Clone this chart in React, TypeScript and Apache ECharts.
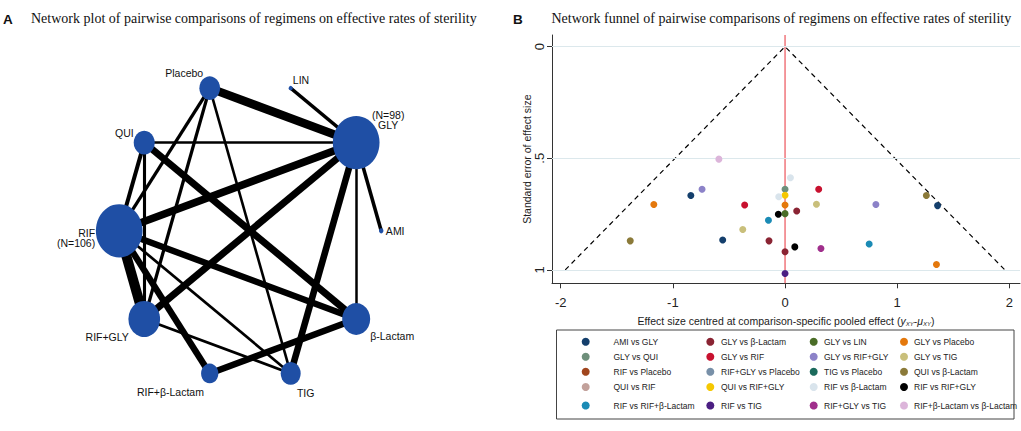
import React, { useEffect, useRef } from 'react';
import * as echarts from 'echarts';

// ---------- Panel A: network ----------
const nodeNames = ['AMI', 'GLY', 'LIN', 'Placebo', 'QUI', 'RIF', 'RIF+GLY', 'RIF+β-Lactam', 'TIG', 'β-Lactam'];
const nodeLabels = ['AMI', '(N=98)\nGLY', 'LIN', 'Placebo', 'QUI', 'RIF\n(N=106)', 'RIF+GLY', 'RIF+β-Lactam', 'TIG', 'β-Lactam'];
// node weight (drawn diameter)
const nodeWeight = [4.5, 46.7, 4, 20.7, 21, 46.7, 31.7, 17.3, 20, 28];

const edgeSource = ['GLY', 'GLY', 'GLY', 'GLY', 'GLY', 'GLY', 'GLY', 'GLY', 'Placebo', 'Placebo', 'Placebo', 'QUI', 'QUI', 'QUI', 'RIF', 'RIF', 'RIF', 'RIF', 'RIF+GLY', 'RIF+β-Lactam'];
const edgeTarget = ['Placebo', 'LIN', 'QUI', 'RIF', 'RIF+GLY', 'TIG', 'AMI', 'β-Lactam', 'RIF', 'RIF+GLY', 'TIG', 'β-Lactam', 'RIF', 'RIF+GLY', 'RIF+GLY', 'β-Lactam', 'RIF+β-Lactam', 'TIG', 'TIG', 'β-Lactam'];
const edgeWeight = [8.5, 3.3, 2.6, 7.6, 7, 6.6, 3.6, 2.5, 3.3, 3.3, 2.6, 7, 4, 3.1, 10, 6.4, 6.4, 2.7, 2.7, 6.4];

// ---------- Panel B: funnel ----------
const comparisons = [
  'AMI vs GLY', 'GLY vs β-Lactam', 'GLY vs LIN', 'GLY vs Placebo',
  'GLY vs QUI', 'GLY vs RIF', 'GLY vs RIF+GLY', 'GLY vs TIG',
  'RIF vs Placebo', 'RIF+GLY vs Placebo', 'TIG vs Placebo', 'QUI vs β-Lactam',
  'QUI vs RIF', 'QUI vs RIF+GLY', 'RIF vs β-Lactam', 'RIF vs RIF+GLY',
  'RIF vs RIF+β-Lactam', 'RIF vs TIG', 'RIF+GLY vs TIG', 'RIF+β-Lactam vs β-Lactam',
];
const comparisonColors = [
  '#143f6c', '#8a2433', '#4a6d27', '#e4780c',
  '#6e8f7b', '#c8112f', '#8c82c8', '#c9bf7b',
  '#a0451d', '#7890a8', '#1b6a5c', '#8b7a39',
  '#c2a19b', '#f5c802', '#d9e4ec', '#000000',
  '#1b8bb5', '#4b1f82', '#a02f8c', '#dcb5da',
];
// [centred effect size, standard error]
const pointsByComparison: [number, number][][] = [
  [[-0.84, 0.667], [1.36, 0.712], [-0.556, 0.866]],
  [[0.104, 0.736], [-0.143, 0.87], [0, 0.919]],
  [[0, 0.748]],
  [[-1.17, 0.707], [0, 0.709], [1.35, 0.976]],
  [[0, 0.639]],
  [[-0.36, 0.709], [0.3, 0.639]],
  [[-0.74, 0.639], [0.81, 0.707]],
  [[0.28, 0.706], [-0.377, 0.819]],
  [],
  [],
  [],
  [[1.26, 0.667], [-1.38, 0.87]],
  [],
  [[0, 0.666]],
  [[0.048, 0.587], [-0.056, 0.672]],
  [[-0.06, 0.751], [0.087, 0.897]],
  [[-0.148, 0.778], [0.75, 0.884]],
  [[0, 1.016]],
  [[0.32, 0.904]],
  [[-0.59, 0.504]],
];
const funnelX = [-1.96, 0, 1.96];
const funnelSE = [1, 0, 1];
const xTicks = [-2, -1, 0, 1, 2];
const yTicks = [0, 0.5, 1];
const xMin = -2.078;
const xMax = 2.095;
const yMin = -0.052;
const yMax = 1.06;

// label offsets for network nodes (style)
const labelOffsets: [number, number][] = [
  [14, 0.5], [32, -23], [10.3, -7.8], [-25.5, -15.5], [-19.8, -9.2],
  [-24, 7], [-37, 18], [-39.3, 18.3], [15, 19.5], [36, 17.4],
];

const legendColX = [585.7, 710.3, 813.7, 904];
const legendTextX = [613.5, 721, 824, 914];
const legendRowY = [341.7, 356.7, 371.7, 387, 405.5];

const SANS = 'Liberation Sans, Arial, sans-serif';
const SERIF = 'Liberation Serif, Times New Roman, serif';

export default function App() {
  const ref = useRef<HTMLDivElement>(null);
  useEffect(() => {
    if (!ref.current) return;
    const chart = echarts.init(ref.current, null, { renderer: 'svg' });

    const nodes = nodeNames.map((n, i) => {
      const a = (i * 36 * Math.PI) / 180;
      return {
        name: n,
        value: [Math.cos(a), Math.sin(a)],
        symbolSize: [nodeWeight[i], nodeWeight[i] * 1.14],
        label: {
          show: true,
          formatter: nodeLabels[i],
          position: 'inside',
          offset: labelOffsets[i],
          align: n === 'RIF' ? 'right' : 'center',
          verticalAlign: 'middle',
        },
      };
    });
    const links = edgeSource.map((s, k) => ({
      source: s,
      target: edgeTarget[k],
      lineStyle: { width: edgeWeight[k] },
    }));

    const scatterSeries = comparisons.map((name, i) => ({
      name,
      type: 'scatter',
      xAxisIndex: 0,
      yAxisIndex: 0,
      data: pointsByComparison[i],
      symbolSize: 7,
      itemStyle: { color: comparisonColors[i], opacity: 1 },
      z: 5,
      silent: true,
    }));

    const legends = comparisons.map((name, i) => {
      const r = Math.floor(i / 4);
      const c = i % 4;
      return {
        data: [name],
        left: legendColX[c] - 4,
        top: legendRowY[r] - 5,
        padding: 0,
        itemWidth: 8,
        itemHeight: 8,
        icon: 'circle',
        selectedMode: false,
        textStyle: {
          fontSize: 8.5,
          fontFamily: SANS,
          color: '#222',
          lineHeight: 10,
          padding: [0, 0, 0, Math.max(0, legendTextX[c] - legendColX[c] - 9)],
        },
      };
    });

    const option: any = {
      animation: false,
      backgroundColor: '#fff',
      title: [
        { text: 'A', left: 3, top: 12, padding: 0, textStyle: { fontFamily: SANS, fontWeight: 'bold', fontSize: 13.5, color: '#111' } },
        { text: 'Network plot of pairwise comparisons of regimens on effective rates of sterility', left: 31, top: 11.5, padding: 0, textStyle: { fontFamily: SERIF, fontWeight: 'normal', fontSize: 14, color: '#111' } },
        { text: 'B', left: 513, top: 12, padding: 0, textStyle: { fontFamily: SANS, fontWeight: 'bold', fontSize: 13.5, color: '#111' } },
        { text: 'Network funnel of pairwise comparisons of regimens on effective rates of sterility', left: 551.5, top: 11.5, padding: 0, textStyle: { fontFamily: SERIF, fontWeight: 'normal', fontSize: 14, color: '#111' } },
      ],
      legend: legends,
      graphic: [
        {
          type: 'rect',
          silent: true,
          shape: { x: 556.5, y: 330, width: 457.5, height: 89 },
          style: { fill: 'none', stroke: '#444', lineWidth: 1 },
        },
      ],
      grid: [
        { left: 552, top: 35, width: 468, height: 248.3, containLabel: false },
        { left: 119.2, top: 80.8, width: 262, height: 300, containLabel: false },
      ],
      xAxis: [
        {
          type: 'value',
          gridIndex: 0,
          min: xMin,
          max: xMax,
          axisLine: { show: true, onZero: false, lineStyle: { color: '#333', width: 1 } },
          axisTick: { show: true, customValues: xTicks, length: 5, lineStyle: { color: '#333' } },
          axisLabel: { customValues: xTicks, fontSize: 13, fontFamily: SANS, color: '#222', margin: 13 },
          splitLine: { show: false },
          name: 'Effect size centred at comparison-specific pooled effect ({i|y}{s|XY}-{i|μ}{s|XY})',
          nameLocation: 'middle',
          nameGap: 22,
          nameTextStyle: {
            fontSize: 10.5,
            fontFamily: SANS,
            color: '#222',
            lineHeight: 13,
            rich: {
              i: { fontStyle: 'italic', fontSize: 10.5, fontFamily: SANS, color: '#222', lineHeight: 13 },
              s: { fontStyle: 'italic', fontSize: 6, fontFamily: SANS, color: '#222', lineHeight: 7, verticalAlign: 'bottom' },
            },
          },
        },
        { type: 'value', gridIndex: 1, min: -1, max: 1, show: false },
      ],
      yAxis: [
        {
          type: 'value',
          gridIndex: 0,
          inverse: true,
          min: yMin,
          max: yMax,
          axisLine: { show: true, onZero: false, lineStyle: { color: '#333', width: 1 } },
          axisTick: { show: true, customValues: yTicks, length: 5, lineStyle: { color: '#333' } },
          axisLabel: {
            customValues: yTicks,
            rotate: 90,
            fontSize: 13,
            fontFamily: SANS,
            color: '#222',
            margin: 6,
            formatter: (v: number) => (v === 0 ? '0' : v === 1 ? '1' : String(v).replace(/^0/, '')),
          },
          splitLine: { show: false },
          name: 'Standard error of effect size',
          nameLocation: 'middle',
          nameRotate: 90,
          nameGap: 18,
          nameTextStyle: { fontSize: 10.5, fontFamily: SANS, color: '#222' },
        },
        { type: 'value', gridIndex: 1, min: -1, max: 1, show: false },
      ],
      series: [
        {
          type: 'line',
          name: '_grid',
          xAxisIndex: 0,
          yAxisIndex: 0,
          data: [],
          z: 1,
          silent: true,
          markLine: {
            silent: true,
            symbol: 'none',
            label: { show: false },
            lineStyle: { color: '#dce8ec', type: 'solid', width: 1 },
            data: yTicks.map((t) => ({ yAxis: t })),
          },
        },
        {
          type: 'line',
          name: '_funnel',
          xAxisIndex: 0,
          yAxisIndex: 0,
          data: funnelX.map((x, i) => [x, funnelSE[i]]),
          symbol: 'none',
          lineStyle: { color: '#000', width: 1.2, type: [5, 4] },
          itemStyle: { color: '#000' },
          z: 2,
          silent: true,
        },
        {
          type: 'line',
          name: '_zero',
          xAxisIndex: 0,
          yAxisIndex: 0,
          data: [[0, yMin], [0, yMax]],
          symbol: 'none',
          lineStyle: { color: '#e8323a', width: 1, type: 'solid' },
          itemStyle: { color: '#e8323a' },
          z: 3,
          silent: true,
        },
        ...scatterSeries,
        {
          type: 'graph',
          name: '_network',
          coordinateSystem: 'cartesian2d',
          xAxisIndex: 1,
          yAxisIndex: 1,
          layout: 'none',
          symbol: 'circle',
          data: nodes,
          links,
          itemStyle: { color: '#1f4fa5' },
          lineStyle: { color: '#000', opacity: 1, curveness: 0 },
          label: { fontSize: 10.5, fontFamily: SANS, color: '#111', lineHeight: 10 },
          emphasis: { disabled: true },
          silent: true,
        },
      ],
    };
    chart.setOption(option);
    return () => chart.dispose();
  }, []);
  return <div ref={ref} style={{ position: 'fixed', left: 0, top: 0, width: 1021, height: 431, background: '#fff' }} />;
}
